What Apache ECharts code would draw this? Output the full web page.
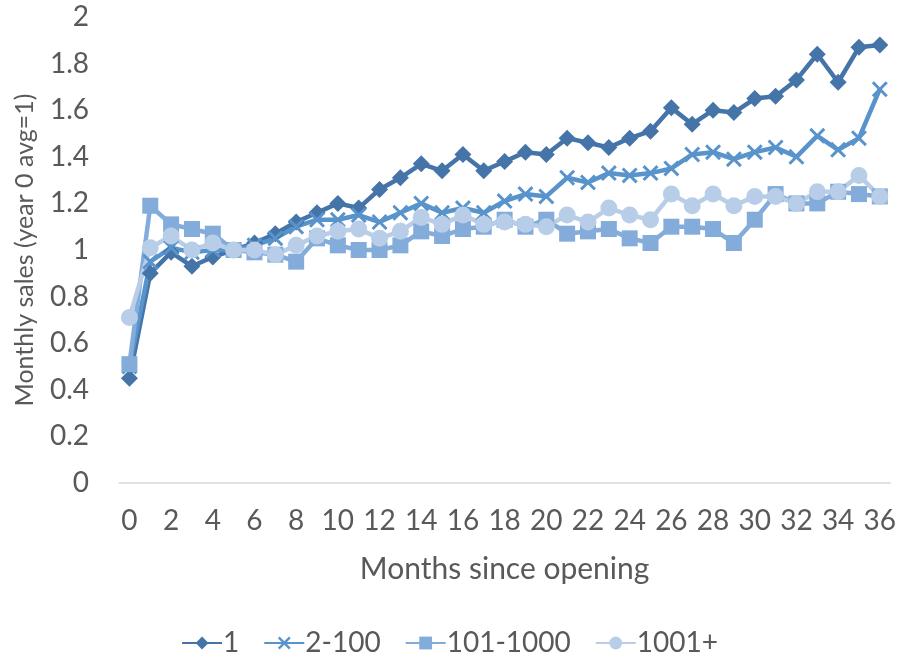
<!DOCTYPE html>
<html>
<head>
<meta charset="utf-8">
<script src="https://cdn.jsdelivr.net/npm/echarts@6/dist/echarts.min.js"></script>
<style>
  html, body { margin: 0; padding: 0; background: #fff; }
  #chart { width: 899px; height: 653px; }
</style>
</head>
<body>
<div id="chart"></div>
<script>
// months 0..36
var months = [];
for (var m = 0; m <= 36; m++) months.push(String(m));

var tier1 = [0.45, 0.90, 0.99, 0.93, 0.97, 1.00, 1.03, 1.07, 1.12, 1.16, 1.20, 1.18,
  1.26, 1.31, 1.37, 1.34, 1.41, 1.34, 1.38, 1.42, 1.41, 1.48, 1.46, 1.44,
  1.48, 1.51, 1.61, 1.54, 1.60, 1.59, 1.65, 1.66, 1.73, 1.84, 1.72, 1.87, 1.88];
var tier2 = [0.50, 0.95, 1.01, 0.99, 1.00, 1.00, 1.02, 1.05, 1.10, 1.13, 1.13, 1.15,
  1.12, 1.16, 1.20, 1.16, 1.18, 1.16, 1.21, 1.24, 1.23, 1.31, 1.29, 1.33,
  1.32, 1.33, 1.35, 1.41, 1.42, 1.39, 1.42, 1.44, 1.40, 1.49, 1.43, 1.48, 1.69];
var tier3 = [0.51, 1.19, 1.11, 1.09, 1.07, 1.00, 0.99, 0.98, 0.95, 1.05, 1.02, 1.00,
  1.00, 1.02, 1.08, 1.06, 1.09, 1.10, 1.13, 1.10, 1.13, 1.07, 1.08, 1.09,
  1.05, 1.03, 1.10, 1.10, 1.09, 1.03, 1.13, 1.24, 1.20, 1.20, 1.25, 1.24, 1.23];
var tier4 = [0.71, 1.01, 1.06, 1.00, 1.03, 1.00, 1.00, 0.98, 1.02, 1.06, 1.08, 1.09,
  1.05, 1.08, 1.14, 1.11, 1.15, 1.11, 1.12, 1.11, 1.10, 1.15, 1.12, 1.18,
  1.15, 1.13, 1.24, 1.19, 1.24, 1.19, 1.23, 1.23, 1.20, 1.25, 1.25, 1.32, 1.23];

var names = ["1", "2-100", "101-1000", "1001+"];
var colors = ["#4474a8", "#5894cb", "#83acdb", "#b8cee8"];
var xMark = "path://M0,1.3L1.3,0L5,3.7L8.7,0L10,1.3L6.3,5L10,8.7L8.7,10L5,6.3L1.3,10L0,8.7L3.7,5Z";
var symbols = ["diamond", xMark, "rect", "circle"];
var sizes = [17, 16, 16, 17];
var data = [tier1, tier2, tier3, tier4];

var font = "Lato, 'Open Sans', sans-serif";
var textColor = "#595959";

var series = [];
for (var i = 0; i < 4; i++) {
  series.push({
    name: names[i],
    type: "line",
    data: data[i],
    symbol: symbols[i],
    symbolSize: sizes[i],
    showAllSymbol: true,
    lineStyle: { width: 4.5, color: colors[i] },
    itemStyle: { color: colors[i] },
    emphasis: { disabled: true }
  });
}

var chart = echarts.init(document.getElementById("chart"));
chart.setOption({
  animation: false,
  color: colors,
  grid: { left: 119, right: 5, top: 17, bottom: 170 },
  legend: {
    top: 624,
    left: "center",
    itemWidth: 40,
    itemHeight: 16,
    itemGap: 24,
    textStyle: { fontFamily: font, fontSize: 28, color: textColor, padding: [0, 0, 0, -4] },
    data: names
  },
  xAxis: {
    type: "category",
    data: months,
    boundaryGap: true,
    name: "Months since opening",
    nameLocation: "middle",
    nameGap: 71,
    nameTextStyle: { fontFamily: font, fontSize: 30, color: textColor },
    axisLine: { lineStyle: { color: "#d9d9d9", width: 1.5 } },
    axisTick: { show: false },
    axisLabel: { interval: 1, margin: 24, fontFamily: font, fontSize: 28, color: textColor }
  },
  yAxis: {
    type: "value",
    min: 0,
    max: 2,
    interval: 0.2,
    name: "Monthly sales (year 0 avg=1)",
    nameLocation: "middle",
    nameGap: 82,
    nameTextStyle: { fontFamily: font, fontSize: 25, color: textColor },
    splitLine: { show: false },
    axisLine: { show: false },
    axisTick: { show: false },
    axisLabel: {
      margin: 30,
      fontFamily: font,
      fontSize: 28,
      color: textColor,
      formatter: function (v) { return String(Math.round(v * 10) / 10); }
    }
  },
  series: series
});
</script>
</body>
</html>
